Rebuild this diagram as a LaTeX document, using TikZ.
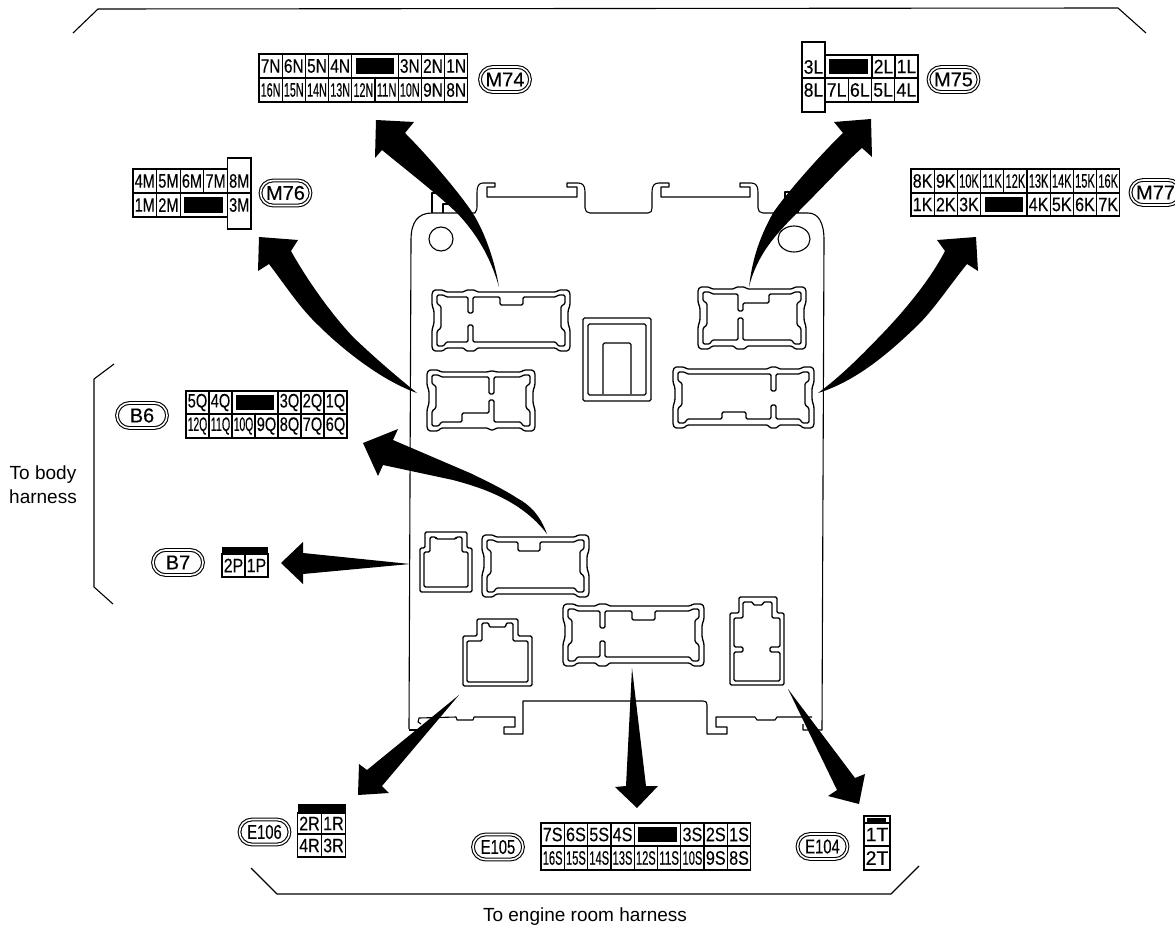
\documentclass[tikz,border=0pt]{standalone}
\usepackage{fontspec}
\setmainfont{Liberation Sans}
\usetikzlibrary{shapes.misc}
\newsavebox\cellbox
\newcommand\fitcell[2]{\sbox\cellbox{#2}\pgfmathsetmacro\fitk{min(1,(#1-3.5)/\wd\cellbox)}\edef\fitcmd{\noexpand\addfontfeature{FakeStretch=\fitk,FakeBold=0.3}}{\fitcmd #2}}
\tikzset{
  hs/.style={line width=1.1pt,line join=round},
  cellst/.style={draw,rectangle,line width=1.3pt,inner sep=0pt,outer sep=0pt,anchor=north west,font=\fontsize{19.5}{21}\selectfont},
  celltext/.style={inner sep=0pt,outer sep=0pt,font=\fontsize{19.5}{21}\selectfont},
  ovalst/.style={draw,rounded rectangle,double,double distance=1.6pt,line width=1.1pt,inner sep=0pt,outer sep=0pt,font=\fontsize{20}{22}\selectfont,minimum width=50pt,minimum height=25pt},
  labelst/.style={inner sep=0pt,font=\fontsize{19}{24}\selectfont,align=center},
  conline/.style={line width=1.3pt,rounded corners=1.4pt,line join=round},
  arrowst/.style={fill=black,draw=none}
}
% x y w h label
\newcommand\tcell[5]{\node[cellst,minimum width=#3pt,minimum height=#4pt] (c#5) at (#1,#2) {\fitcell{#3}{#5}};}
% x0 cw y h {i/label,...}
\newcommand\trow[5]{\foreach \ii/\lab in {#5}{\pgfmathsetmacro\xx{#1+\ii*#2}\tcell{\xx}{#3}{#2}{#4}{\lab}}}
% x y w h : merged cell with a black block
\newcommand\bcell[4]{\draw[line width=1.3pt] (#1,#2) rectangle ({#1+#3},{#2+#4}); \fill ({#1+4},{#2+4}) rectangle ({#1+#3-4},{#2+#4-4});}
% x0 y0 W H topinner botinner topouter botouter
\newcommand\widecon[8]{\begin{scope}[shift={(#1,#2)}]\def\W{#3}\def\H{#4}
\draw[conline] (0,3) -- (2,0) -- (11,0) -- (14,2) #7 -- ({\W-14},2) -- ({\W-11},0) -- ({\W-2},0) -- (\W,3) -- (\W,15) -- ({\W-2},21) -- ({\W-2},33) -- (\W,40) -- (\W,{\H-3}) -- ({\W-2},\H) -- ({\W-11},\H) -- ({\W-14},{\H-3}) #8 -- (14,{\H-3}) -- (11,\H) -- (2,\H) -- (0,{\H-3}) -- (0,40) -- (2,33) -- (2,21) -- (0,15) -- cycle;
\draw[conline] (5,5) -- (12,5) -- (14,7) #5 -- ({\W-14},7) -- ({\W-12},5) -- ({\W-5},5) -- ({\W-5},14) -- ({\W-9},16) -- ({\W-9},38) -- ({\W-5},41) -- ({\W-5},{\H-5}) -- ({\W-12},{\H-5}) -- ({\W-14},{\H-9}) #6 -- (14,{\H-9}) -- (12,{\H-5}) -- (5,{\H-5}) -- (5,41) -- (9,38) -- (9,16) -- (5,14) -- cycle;
\end{scope}}
\begin{document}
\begin{tikzpicture}[x=1pt,y=-1pt]
\useasboundingbox (0,0) rectangle (1175,928);
% brackets
\draw[hs] (73,33) -- (98,9) -- (1118,8) -- (1146,33);
\draw[hs] (114,364) -- (94,379) -- (94,587) -- (113,604);
\draw[hs] (251,868) -- (277,894) -- (891,894) -- (919,866);
\node[labelst] (lbody) at (43,485) {To body\\harness};
\node[labelst] (lengine) at (585,917) {To engine room harness};
% housing
\draw[hs] (409,729) -- (411,240) .. controls (411,222) and (418,213) .. (432,213) -- (475,213) .. controls (477,211) and (477,208) .. (477,204) -- (477,192) .. controls (477,186) and (479,183) .. (483,183) -- (495,183) -- (495,187) -- (487,187) -- (487,197) -- (577,197) -- (577,187) -- (567,187) -- (567,183) -- (578,183) .. controls (583,183) and (585,186) .. (585,192) -- (585,208) .. controls (585,211) and (587,213) .. (590,213) -- (648,213) .. controls (651,213) and (652,211) .. (652,208) -- (652,192) .. controls (652,186) and (654,183) .. (659,183) -- (669,183) -- (669,187) -- (661,187) -- (661,197) -- (750,197) -- (750,187) -- (740,187) -- (740,183) -- (751,183) .. controls (756,183) and (758,186) .. (758,192) -- (758,208) .. controls (758,211) and (760,213) .. (763,213) -- (808,213) .. controls (818,213) and (824,222) .. (824,240) -- (822,730) -- (803,730) -- (803,724);
\draw[hs] (432,213) -- (432,193) -- (445,193);
\draw[hs] (443,213) -- (443,204) -- (455,204);
\draw[hs] (785,213) -- (785,192) -- (798,192) -- (798,213);
\draw[hs] (409,730) -- (425,730);
\draw[hs] (421,724) -- (418,722) -- (419,718) -- (456,717) -- (457,720) -- (473,720) -- (474,717) -- (515,717) -- (515,727) -- (504,727) -- (504,734) -- (523,734) -- (523,701) -- (703,701) .. controls (706,701) and (707,702) .. (707,705) -- (707,734) -- (727,734) -- (727,727) -- (716,727) -- (716,717) -- (755,717) -- (757,720) -- (775,720) -- (777,717) -- (812,717);
\draw[hs] (441,239) circle[radius=12pt];
\draw[hs] (794,239) ellipse[x radius=16pt,y radius=13pt];
% wide connectors
\widecon{432}{290}{138}{61}{--(36,7)--(36,23)--(41,23)--(41,7)--(68,7)--(68,15)--(91,15)--(91,7)}{--(41,52)--(41,35)--(36,35)--(36,52)}{--(32,2)--(34,0)--(43,0)--(45,2)}{--(45,58)--(43,61)--(34,61)--(32,58)}
\widecon{698}{287}{108}{62}{--(40,7)--(40,24)--(45,24)--(45,16)--(71,16)--(71,7)}{--(45,53)--(45,31)--(40,31)--(40,53)}{--(36,2)--(38,0)--(47,0)--(49,2)}{--(49,59)--(47,62)--(38,62)--(36,59)}
\widecon{427}{370}{108}{61}{--(62,7)--(62,24)--(67,24)--(67,7)}{--(67,52)--(67,30)--(62,30)--(62,43)--(35,43)--(35,52)}{--(61,2)--(63,1)--(67,1)--(69,2)}{--(69,58)--(67,60)--(63,60)--(61,58)}
\widecon{673}{367}{141}{61}{--(98,7)--(98,24)--(103,24)--(103,7)}{--(103,52)--(103,38)--(98,38)--(98,52)--(73,52)--(73,45)--(49,45)--(49,52)}{--(95,2)--(97,0)--(104,0)--(106,2)}{--(106,58)--(104,61)--(97,61)--(95,58)}
\widecon{482}{535}{107}{62}{--(36,7)--(36,16)--(58,16)--(58,7)}{}{}{}
\widecon{563}{604}{141}{62}{--(37,7)--(37,24)--(42,24)--(42,7)--(69,7)--(69,16)--(92,16)--(92,7)}{--(42,53)--(42,37)--(37,37)--(37,53)}{--(33,2)--(35,0)--(44,0)--(46,2)}{--(46,59)--(44,62)--(35,62)--(33,59)}
% relay box
\draw[line width=1.3pt,rounded corners=1.5pt] (583,318) rectangle (651,401);
\draw[line width=1.3pt,rounded corners=1.5pt] (588,324) rectangle (646,395);
\draw[hs,rounded corners=1.5pt] (603,394) -- (603,343) -- (631,343) -- (631,394);
% B7 connector
\draw[conline] (420,592) -- (420,548) -- (425,548) -- (425,532) -- (467,532) -- (467,548) -- (472,548) -- (472,592) -- cycle;
\draw[conline] (424,587) -- (424,552) -- (430,552) -- (430,537) -- (436,537) -- (436,539) -- (456,539) -- (456,537) -- (462,537) -- (462,552) -- (468,552) -- (468,587) -- cycle;
% E106 connector
\draw[conline] (463,686) -- (463,636) -- (477,636) -- (477,619) -- (518,619) -- (518,636) -- (532,636) -- (532,686) -- cycle;
\draw[conline] (467,682) -- (467,641) -- (482,641) -- (482,623) -- (489,623) -- (489,627) -- (506,627) -- (506,623) -- (513,623) -- (513,641) -- (528,641) -- (528,682) -- cycle;
% E104 connector
\draw[conline] (730,685) -- (730,613) -- (739,613) -- (739,597) -- (777,597) -- (777,613) -- (784,613) -- (784,685) -- cycle;
\draw[conline] (734,681) -- (734,652) -- (743,652) -- (743,647) -- (734,647) -- (734,618) -- (743,618) -- (743,602) -- (753,602) -- (753,605) -- (763,605) -- (763,602) -- (772,602) -- (772,618) -- (780,618) -- (780,647) -- (770,647) -- (770,652) -- (780,652) -- (780,681) -- cycle;
% arrows
\coordinate (t74) at (499,287); \coordinate (t75) at (749,287); \coordinate (t76) at (417,393); \coordinate (t77) at (818,393);
\coordinate (tB6) at (547,534); \coordinate (tB7) at (410,564); \coordinate (tE6) at (459,695); \coordinate (tE5) at (632,668); \coordinate (tE4) at (788,689);
\fill[arrowst] (t74) .. controls (495,262) and (485,232) .. (472,212) .. controls (460,194) and (430,158) .. (405,133) -- (414,122) -- (376,120) -- (375,158) -- (382,150) .. controls (400,165) and (435,192) .. (457,213) .. controls (475,232) and (490,255) .. (t74) -- cycle;
\fill[arrowst] (t75) .. controls (752,262) and (758,240) .. (773,213) .. controls (785,195) and (820,155) .. (843,133) -- (834,122) -- (871,119) -- (872,157) -- (862,148) .. controls (850,158) and (820,190) .. (797,213) .. controls (775,235) and (757,255) .. (t75) -- cycle;
\fill[arrowst] (t76) .. controls (395,375) and (375,358) .. (353,337) .. controls (335,318) and (310,285) .. (291,251) -- (298,240) -- (259,237) -- (258,271) -- (269,264) .. controls (285,285) and (300,308) .. (318,325) .. controls (340,347) and (380,380) .. (t76) -- cycle;
\fill[arrowst] (t77) .. controls (840,377) and (862,355) .. (883,333) .. controls (905,310) and (930,280) .. (945,251) -- (937,240) -- (976,237) -- (978,271) -- (967,264) .. controls (950,285) and (935,308) .. (918,325) .. controls (895,347) and (860,380) .. (t77) -- cycle;
\fill[arrowst] (tB6) .. controls (540,515) and (530,505) .. (517,498) .. controls (500,487) and (480,478) .. (470,473) -- (393,440) -- (398,429) -- (363,443) -- (378,476) -- (383,465) -- (453,480) .. controls (475,486) and (520,498) .. (tB6) -- cycle;
\fill[arrowst] (tB7) -- (303,553) -- (303,542) -- (281,563) -- (303,584) -- (303,574) -- cycle;
\fill[arrowst] (tE6) -- (367,770) -- (359,764) -- (358,795) -- (389,793) -- (382,786) -- cycle;
\fill[arrowst] (tE5) -- (626,786) -- (615,787) -- (637,808) -- (658,786) -- (646,786) -- cycle;
\fill[arrowst] (tE4) -- (855,778) -- (865,774) -- (859,804) -- (828,796) -- (837,790) -- cycle;
% M74
\trow{259}{23.2}{54}{24}{0/7N,1/6N,2/5N,3/4N,6/3N,7/2N,8/1N}
\bcell{351.8}{54}{46.4}{24}
\trow{259}{23.2}{78}{24}{0/16N,1/15N,2/14N,3/13N,4/12N,5/11N,6/10N,7/9N,8/8N}
\node[ovalst] (oM74) at (505,79.5) {\fitcell{44}{M74}};
% M75
\draw[line width=1.3pt] (802,42) rectangle (825,78) (802,78) rectangle (825,112);
\node[celltext] (c3L) at (813.5,67) {\fitcell{23}{3L}};
\node[celltext] (c8L) at (813.5,90) {\fitcell{23}{8L}};
\bcell{825}{55}{47}{23}
\trow{872}{23}{55}{23}{0/2L,1/1L}
\trow{825}{23.25}{78}{24}{0/7L,1/6L,2/5L,3/4L}
\node[ovalst] (oM75) at (953.5,79.5) {\fitcell{44}{M75}};
% M76
\trow{133}{23.6}{169}{24}{0/4M,1/5M,2/6M,3/7M}
\trow{133}{23.6}{193}{24}{0/1M,1/2M}
\bcell{180.2}{193}{47.2}{24}
\draw[line width=1.3pt] (227.4,158) rectangle (251,193) (227.4,193) rectangle (251,229);
\node[celltext] (c8M) at (239.2,181) {\fitcell{23.6}{8M}};
\node[celltext] (c3M) at (239.2,205) {\fitcell{23.6}{3M}};
\node[ovalst] (oM76) at (285.5,193) {\fitcell{44}{M76}};
% M77
\trow{911}{23.2}{169}{24}{0/8K,1/9K,2/10K,3/11K,4/12K,5/13K,6/14K,7/15K,8/16K}
\trow{911}{23.2}{193}{23}{0/1K,1/2K,2/3K,5/4K,6/5K,7/6K,8/7K}
\bcell{980.6}{193}{46.4}{23}
\node[ovalst] (oM77) at (1155.5,192.5) {\fitcell{44}{M77}};
% B6
\trow{186}{23}{391}{23}{0/5Q,1/4Q,4/3Q,5/2Q,6/1Q}
\bcell{232}{391}{46}{23}
\trow{186}{23}{414}{24}{0/12Q,1/11Q,2/10Q,3/9Q,4/8Q,5/7Q,6/6Q}
\node[ovalst] (oB6) at (142,415.5) {\fitcell{44}{B6}};
% B7
\fill (222,547) rectangle (268,555);
\trow{222}{23}{554}{23}{0/2P,1/1P}
\node[ovalst] (oB7) at (178,562.5) {\fitcell{44}{B7}};
% E106
\fill (297.5,804) rectangle (345.5,813);
\trow{297.5}{24}{813}{21}{0/2R,1/1R}
\trow{297.5}{24}{834}{23}{0/4R,1/3R}
\node[ovalst] (oE106) at (264.5,832) {\fitcell{38}{E106}};
% E105
\trow{541}{23.3}{823}{23}{0/7S,1/6S,2/5S,3/4S,6/3S,7/2S,8/1S}
\bcell{634.2}{823}{46.6}{23}
\trow{541}{23.3}{846}{24}{0/16S,1/15S,2/14S,3/13S,4/12S,5/11S,6/10S,7/9S,8/8S}
\node[ovalst] (oE105) at (498,847) {\fitcell{38}{E105}};
% E104
\draw[line width=1.3pt] (864,816) rectangle (890,823);
\fill (867,818) rectangle (886,822);
\tcell{864}{823}{26}{23}{1T}
\tcell{864}{846}{26}{24}{2T}
\node[ovalst] (oE104) at (822.5,846.5) {\fitcell{38}{E104}};
\end{tikzpicture}
\end{document}
